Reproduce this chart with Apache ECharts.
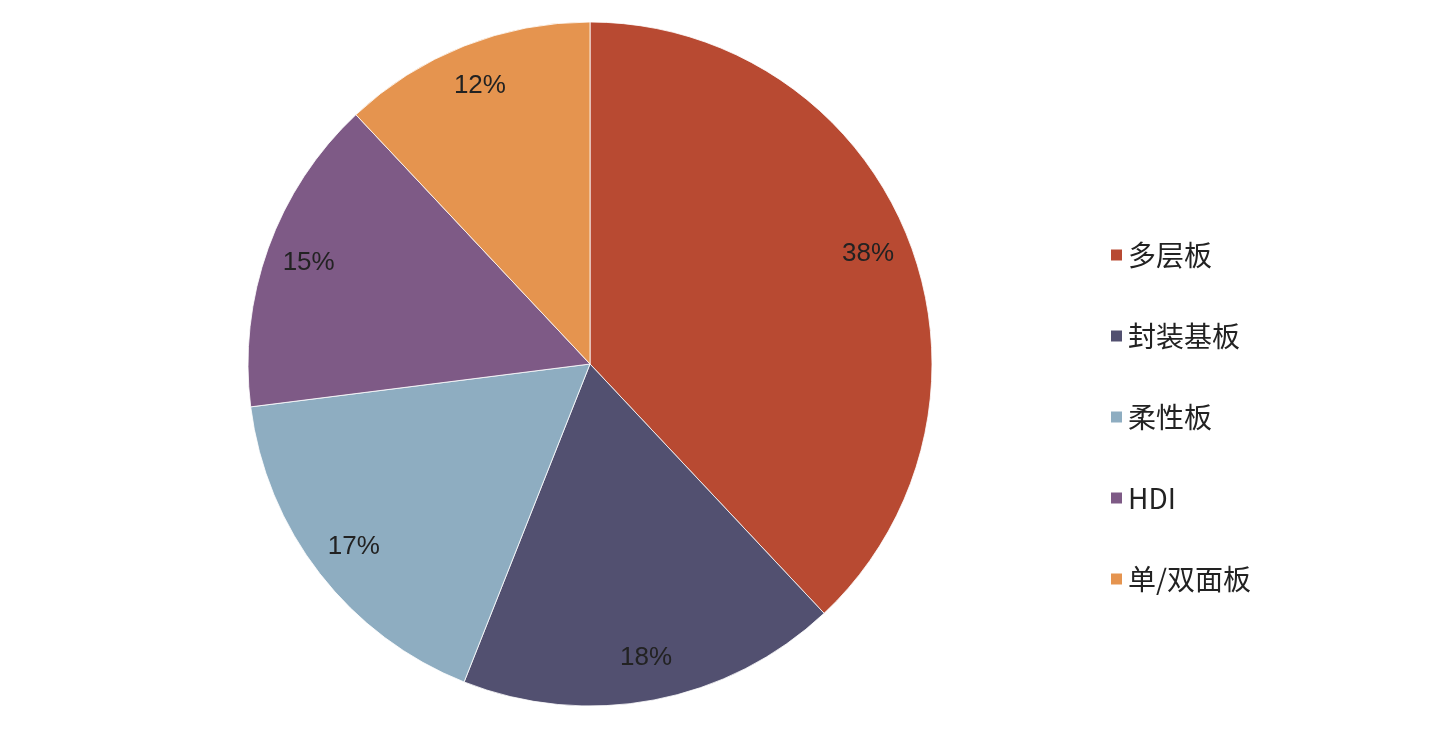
<!DOCTYPE html>
<html>
<head>
<meta charset="utf-8">
<script src="https://cdn.jsdelivr.net/npm/echarts@6/dist/echarts.min.js"></script>
<style>html,body{margin:0;padding:0;background:#fff}#chart{width:1444px;height:740px}</style>
</head>
<body>
<div id="chart"></div>
<script>
// 各类PCB产品占比
var categories = ['多层板', '封装基板', '柔性板', 'HDI', '单/双面板'];
var shares = [38, 18, 17, 15, 12];
var colors = ['#B84A32', '#525070', '#8EADC1', '#7E5A86', '#E5944F'];

var myChart = echarts.init(document.getElementById('chart'));
var option = {
	backgroundColor: '#fff',
	legend: {
		orient: 'vertical',
		left: 1104,
		top: 236,
		itemWidth: 13,
		itemHeight: 13,
		itemGap: 53,
		icon: 'rect',
		textStyle: {
			fontSize: 28,
			color: '#222',
			fontFamily: 'Noto Sans CJK SC, Liberation Sans, sans-serif'
		},
		data: categories
	},
	series: [{
		type: 'pie',
		center: [590, 364],
		radius: [0, 342],
		startAngle: 90,
		clockwise: true,
		animation: false,
		itemStyle: {
			borderColor: '#fff',
			borderWidth: 0.8
		},
		label: { show: false },
		labelLine: { show: false },
		data: categories.map(function(name, i) {
			return { name: name, value: shares[i], itemStyle: { color: colors[i] } };
		})
	}, {
		// 透明外环，仅用于放置百分比标签
		type: 'pie',
		center: [590, 364],
		radius: [250, 342],
		startAngle: 90,
		clockwise: true,
		animation: false,
		silent: true,
		itemStyle: { color: 'rgba(0,0,0,0)' },
		label: {
			show: true,
			position: 'inside',
			formatter: '{c}%',
			fontSize: 26,
			color: '#222',
			fontFamily: 'Liberation Sans, Arial, sans-serif'
		},
		labelLine: { show: false },
		data: categories.map(function(name, i) {
			return { name: name, value: shares[i] };
		})
	}]
};
myChart.setOption(option);
</script>
</body>
</html>
